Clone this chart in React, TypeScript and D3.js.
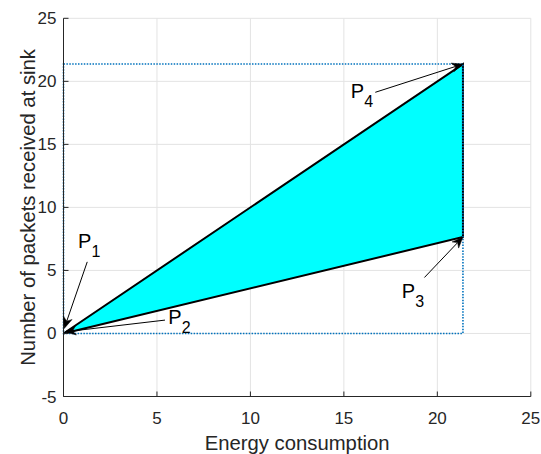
import React from "react";
import * as d3 from "d3";

const xTicks = [0, 5, 10, 15, 20, 25];
const yTicks = [-5, 0, 5, 10, 15, 20, 25];
const polyX = [0, 21.37, 21.37];
const polyY = [0, 21.37, 7.65];
const boxX = [0, 21.37];
const boxY = [0, 21.37];
const subLabels = ["1", "2", "3", "4"];
const tailX = [1.27, 5.43, 19.31, 16.68];
const tailY = [5.68, 1.06, 4.44, 19.13];
const headX = [0.04, 0.08, 21.37, 21.37];
const headY = [0.4, 0.13, 7.65, 21.37];
const textX = [0.78, 5.61, 18.1, 15.37];
const textY = [6.77, 0.79, 2.78, 18.7];

const W = 541;
const H = 454;
const FONT = "'Liberation Sans', Arial, Helvetica, sans-serif";
const AX = "#262626";

export default function App() {
  const x = d3.scaleLinear().domain([0, 25]).range([63.5, 530.8]);
  const y = d3.scaleLinear().domain([-5, 25]).range([396.5, 18.3]);
  const [x0, x1] = x.range();
  const [y0, y1] = y.range();

  const poly = d3.line<number>().x((d) => x(polyX[d])).y((d) => y(polyY[d]));
  const polyPath = poly([0, 1, 2]) + "Z";

  const arrows = subLabels.map((s, i) => {
    const tx = x(tailX[i]);
    const ty = y(tailY[i]);
    const hx = x(headX[i]);
    const hy = y(headY[i]);
    const a = Math.atan2(hy - ty, hx - tx);
    const ux = Math.cos(a);
    const uy = Math.sin(a);
    const nx = -uy;
    const ny = ux;
    const L = 11;
    const Wd = 4.5;
    const bx = hx - L * ux;
    const by = hy - L * uy;
    const mx = hx - 0.7 * L * ux;
    const my = hy - 0.7 * L * uy;
    const head = `M${hx},${hy}L${bx + Wd * nx},${by + Wd * ny}L${mx},${my}L${bx - Wd * nx},${by - Wd * ny}Z`;
    return { tx, ty, mx, my, head, lx: x(textX[i]), ly: y(textY[i]), s };
  });

  return (
    <svg
      width={W}
      height={H}
      style={{ position: "absolute", left: 0, top: 0, background: "#fff" }}
      fontFamily={FONT}
    >
      <rect x={0} y={0} width={W} height={H} fill="#fff" />
      {/* grid */}
      <g stroke="#e3e3e3" strokeWidth={1}>
        {xTicks.map((t) => (
          <line key={"gx" + t} x1={x(t)} x2={x(t)} y1={y0} y2={y1} />
        ))}
        {yTicks.map((t) => (
          <line key={"gy" + t} x1={x0} x2={x1} y1={y(t)} y2={y(t)} />
        ))}
      </g>
      {/* polygon */}
      <path d={polyPath} fill="#00ffff" stroke="#000" strokeWidth={2} strokeLinejoin="miter" />
      {/* dotted box */}
      <rect
        x={x(boxX[0])}
        y={y(boxY[1])}
        width={x(boxX[1]) - x(boxX[0])}
        height={y(boxY[0]) - y(boxY[1])}
        fill="none"
        stroke="#0072BD"
        strokeWidth={1.6}
        strokeDasharray="1.5,1.4"
      />
      {/* axes */}
      <g stroke={AX} strokeWidth={1} fill="none">
        <line x1={x0} x2={x0} y1={y0} y2={y1} />
        <line x1={x0} x2={x1} y1={y0} y2={y0} />
        {xTicks.map((t) => (
          <line key={"tx" + t} x1={x(t)} x2={x(t)} y1={y0} y2={y0 - 5} />
        ))}
        {yTicks.map((t) => (
          <line key={"ty" + t} x1={x0} x2={x0 + 5} y1={y(t)} y2={y(t)} />
        ))}
      </g>
      <g fill={AX} fontSize={17}>
        {xTicks.map((t) => (
          <text key={"lx" + t} x={x(t)} y={y0 + 27} textAnchor="middle">
            {t}
          </text>
        ))}
        {yTicks.map((t) => (
          <text key={"ly" + t} x={x0 - 7} y={y(t) + 6} textAnchor="end">
            {t}
          </text>
        ))}
      </g>
      <text x={(x0 + x1) / 2} y={450} textAnchor="middle" fontSize={20.3} fill={AX}>
        Energy consumption
      </text>
      <text
        transform={`translate(35,${(y0 + y1) / 2}) rotate(-90)`}
        textAnchor="middle"
        fontSize={20.3}
        fill={AX}
      >
        Number of packets received at sink
      </text>
      {/* annotations */}
      {arrows.map((a, i) => (
        <g key={"ar" + i}>
          <line x1={a.tx} y1={a.ty} x2={a.mx} y2={a.my} stroke="#000" strokeWidth={1} />
          <path d={a.head} fill="#000" stroke="#000" strokeWidth={0.5} />
          <text x={a.lx} y={a.ly} fontSize={20} fill="#000">
            P
            <tspan dy={9} fontSize={16}>
              {a.s}
            </tspan>
          </text>
        </g>
      ))}
    </svg>
  );
}
